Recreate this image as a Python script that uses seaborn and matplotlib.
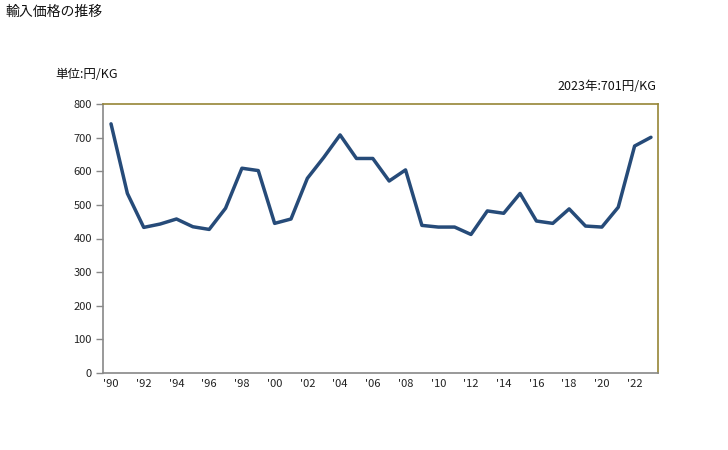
import matplotlib
matplotlib.use("Agg")
import matplotlib.pyplot as plt
import seaborn as sns
import pandas as pd

years = list(range(1990, 2024))
prices = [741, 534, 433, 443, 458, 435, 427, 490, 609, 602,
          445, 458, 579, 641, 708, 638, 638, 571, 604, 439,
          434, 434, 412, 482, 475, 534, 452, 445, 488, 437,
          434, 493, 675, 701]
tick_years = list(range(1990, 2023, 2))
tick_labels = ["'" + str(y)[2:] for y in tick_years]
y_ticks = list(range(0, 801, 100))

df = pd.DataFrame({"year": years, "price": prices})

sns.set_theme(style="white")
plt.rcParams['font.family'] = ['Noto Sans CJK JP', 'DejaVu Sans']

fig = plt.figure(figsize=(7.28, 4.5), dpi=100)
ax = fig.add_axes([103/728, 1-373/450, 555/728, 269/450])

sns.lineplot(data=df, x="year", y="price", ax=ax, color="#264b79", linewidth=2.5)

ax.set_xlim(1989.51, 2023.43)
ax.set_ylim(0, 800)
ax.set_xticks(tick_years)
ax.set_xticklabels(tick_labels, fontsize=8, color="#222222")
ax.set_yticks(y_ticks)
ax.set_yticklabels([str(v) for v in y_ticks], fontsize=8, color="#222222")
ax.set_xlabel("")
ax.set_ylabel("")

ax.tick_params(axis="y", which="both", left=True, length=5, width=1, color="#888888", pad=3, direction="out")
ax.tick_params(axis="x", which="both", bottom=False, length=0, pad=4)

for s in ["left", "bottom"]:
    ax.spines[s].set_color("#888888")
    ax.spines[s].set_linewidth(1.2)
for s in ["top", "right"]:
    ax.spines[s].set_color("#968536")
    ax.spines[s].set_linewidth(1.2)

fig.text(5/728, 1-12/450, "輸入価格の推移", fontsize=10, ha="left", va="center", color="#111111")
fig.text(55/728, 1-75/450, "単位:円/KG", fontsize=9, ha="left", va="center", color="#111111")
fig.text(656/728, 1-86/450, "2023年:701円/KG", fontsize=9, ha="right", va="center", color="#111111")

fig.savefig("out.png", dpi=100)
